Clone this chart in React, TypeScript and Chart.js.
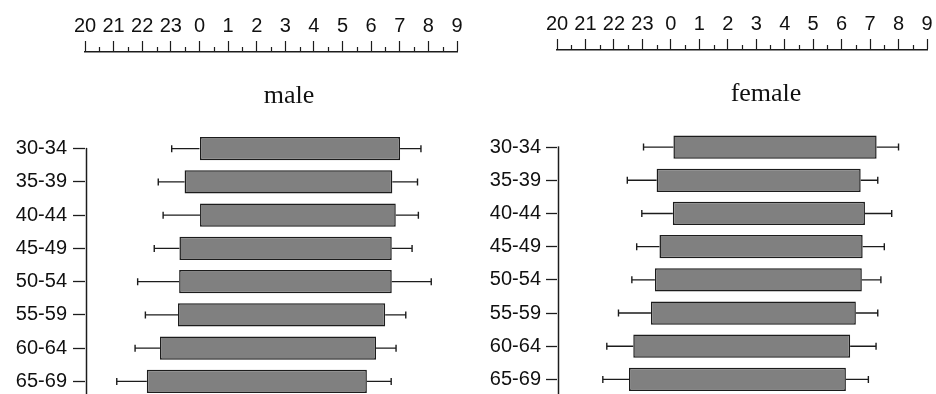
import React, { useEffect, useRef } from 'react';
import { Chart, registerables } from 'chart.js';

Chart.register(...registerables);

// Age groups (categories)
const ageGroups = ['30-34', '35-39', '40-44', '45-49', '50-54', '55-59', '60-64', '65-69'];

// Top axis tick labels (clock hours from 20:00 to 09:00)
const hourLabels = ['20', '21', '22', '23', '0', '1', '2', '3', '4', '5', '6', '7', '8', '9'];

// Values in hours relative to midnight (negative = before midnight)
// Male: mean bedtime, mean wake time, lower whisker end, upper whisker end
const maleBedtime = [0.0, -0.52, 0.02, -0.7, -0.71, -0.75, -1.38, -1.84];
const maleWaketime = [7.01, 6.74, 6.86, 6.72, 6.72, 6.49, 6.17, 5.85];
const maleBedLow = [-0.97, -1.44, -1.27, -1.58, -2.16, -1.89, -2.25, -2.89];
const maleWakeHigh = [7.74, 7.62, 7.65, 7.43, 8.1, 7.21, 6.87, 6.7];

// Female
const femaleBedtime = [0.09, -0.5, 0.07, -0.4, -0.56, -0.7, -1.32, -1.47];
const femaleWaketime = [7.23, 6.67, 6.82, 6.74, 6.71, 6.5, 6.3, 6.15];
const femaleBedLow = [-0.96, -1.53, -1.02, -1.2, -1.37, -1.84, -2.25, -2.39];
const femaleWakeHigh = [8.0, 7.27, 7.76, 7.5, 7.38, 7.27, 7.21, 6.94];

const AXIS_MIN = -4;
const AXIS_MAX = 9;

type PanelProps = {
  title: string;
  bed: number[];
  wake: number[];
  low: number[];
  high: number[];
  left: number;
  width: number;
  height: number;
  plotLeft: number;
  plotRight: number;
  axisY: number;
  plotTop: number;
  yTickLen: number;
  yTickPad: number;
};

function Panel(p: PanelProps) {
  const ref = useRef<HTMLCanvasElement | null>(null);

  useEffect(() => {
    const canvas = ref.current;
    if (!canvas) return;
    const ink = '#1c1c1c';

    const errorBars = {
      id: 'errorBars',
      afterDatasetsDraw(chart: any) {
        const ctx = chart.ctx;
        const xs = chart.scales.x;
        const meta = chart.getDatasetMeta(0);
        ctx.save();
        ctx.strokeStyle = ink;
        ctx.lineWidth = 1.4;
        meta.data.forEach((el: any, i: number) => {
          const y = el.y;
          const xl = xs.getPixelForValue(p.low[i]);
          const xb = xs.getPixelForValue(p.bed[i]);
          const xw = xs.getPixelForValue(p.wake[i]);
          const xh = xs.getPixelForValue(p.high[i]);
          const cap = 3.5;
          ctx.beginPath();
          ctx.moveTo(xl, y);
          ctx.lineTo(xb, y);
          ctx.moveTo(xl, y - cap);
          ctx.lineTo(xl, y + cap);
          ctx.moveTo(xw, y);
          ctx.lineTo(xh, y);
          ctx.moveTo(xh, y - cap);
          ctx.lineTo(xh, y + cap);
          ctx.stroke();
        });
        ctx.restore();
      },
    };

    const axisExtras = {
      id: 'axisExtras',
      afterDraw(chart: any) {
        const ctx = chart.ctx;
        const xs = chart.scales.x;
        const ys = chart.scales.y;
        ctx.save();
        ctx.strokeStyle = ink;
        ctx.lineWidth = 1.2;
        // half-hour minor ticks on the top axis
        ctx.beginPath();
        for (let v = AXIS_MIN + 0.5; v < AXIS_MAX; v += 1) {
          const px = Math.round(xs.getPixelForValue(v)) + 0.5;
          ctx.moveTo(px, xs.bottom);
          ctx.lineTo(px, xs.bottom - 5);
        }
        ctx.stroke();
        // vertical y axis line starting at the first category
        const x0 = Math.round(chart.chartArea.left) + 1.5;
        ctx.lineWidth = 1.5;
        ctx.beginPath();
        ctx.moveTo(x0, ys.getPixelForValue(0) - 0.75);
        ctx.lineTo(x0, chart.height + 5);
        ctx.stroke();
        ctx.restore();
      },
    };

    const tickFont = { family: "'Liberation Sans', Arial, sans-serif", size: 20 };

    const chart = new Chart(canvas, {
      type: 'bar',
      data: {
        labels: ageGroups,
        datasets: [
          {
            data: p.bed.map((b, i) => [b, p.wake[i]]) as any,
            backgroundColor: '#808080',
            borderColor: ink,
            borderWidth: 1.5,
            borderSkipped: false,
            categoryPercentage: 1,
            barPercentage: 0.7,
          },
        ],
      },
      options: {
        indexAxis: 'y',
        animation: false,
        responsive: false,
        maintainAspectRatio: false,
        events: [],
        layout: {
          padding: { left: 0, right: 0, top: 0, bottom: 0 },
        },
        plugins: {
          legend: { display: false },
          tooltip: { enabled: false },
          title: {
            display: true,
            text: p.title,
            color: '#111',
            font: { family: "'Liberation Serif', 'Times New Roman', serif", size: 26, weight: 'normal' as any },
            padding: { top: 29, bottom: p.plotTop - p.axisY - 29 - 31.2 },
          },
        },
        scales: {
          x: {
            type: 'linear',
            position: 'top',
            weight: 3000,
            min: AXIS_MIN,
            max: AXIS_MAX,
            ticks: {
              stepSize: 1,
              autoSkip: false,
              maxRotation: 0,
              padding: 3,
              color: '#111',
              font: tickFont,
              callback: (_v: any, i: number) => hourLabels[i],
            },
            grid: {
              drawOnChartArea: false,
              drawTicks: true,
              tickLength: 11,
              tickWidth: 1.2,
              tickColor: ink,
            },
            border: { display: true, color: ink, width: 1.5 },
            afterFit: (s: any) => {
              s.height = p.axisY;
            },
          } as any,
          y: {
            type: 'category',
            ticks: {
              autoSkip: false,
              padding: p.yTickPad,
              color: '#111',
              font: { ...tickFont, size: 20 },
            },
            grid: {
              offset: false,
              drawOnChartArea: false,
              drawTicks: true,
              tickLength: p.yTickLen,
              tickWidth: 1.3,
              tickColor: ink,
            },
            border: { display: false },
            afterFit: (s: any) => {
              s.width = p.plotLeft;
              s.paddingTop = 0;
              s.paddingBottom = 0;
            },
          } as any,
          spacer: {
            type: 'linear',
            axis: 'y',
            position: 'right',
            display: true,
            grid: { display: false, drawTicks: false },
            border: { display: false },
            ticks: { display: false },
            afterFit: (s: any) => {
              s.width = p.width - p.plotRight;
              s.paddingTop = 0;
              s.paddingBottom = 0;
            },
          } as any,
        },
      },
      plugins: [errorBars, axisExtras],
    });

    return () => chart.destroy();
  }, []);

  return (
    <canvas
      ref={ref}
      width={p.width}
      height={p.height}
      style={{ position: 'absolute', left: p.left, top: 0, width: p.width, height: p.height, display: 'block' }}
    />
  );
}

export default function App() {
  return (
    <div
      style={{
        position: 'fixed',
        left: 0,
        top: 0,
        width: 936,
        height: 394,
        overflow: 'hidden',
        background: '#ffffff',
      }}
    >
      <Panel
        title="male"
        bed={maleBedtime}
        wake={maleWaketime}
        low={maleBedLow}
        high={maleWakeHigh}
        left={0}
        width={578}
        height={398}
        plotLeft={85}
        plotRight={457}
        axisY={52}
        plotTop={132}
        yTickLen={12}
        yTickPad={6}
      />
      <Panel
        title="female"
        bed={femaleBedtime}
        wake={femaleWaketime}
        low={femaleBedLow}
        high={femaleWakeHigh}
        left={470}
        width={592}
        height={396}
        plotLeft={87}
        plotRight={457}
        axisY={50}
        plotTop={130.5}
        yTickLen={11}
        yTickPad={5}
      />
    </div>
  );
}
